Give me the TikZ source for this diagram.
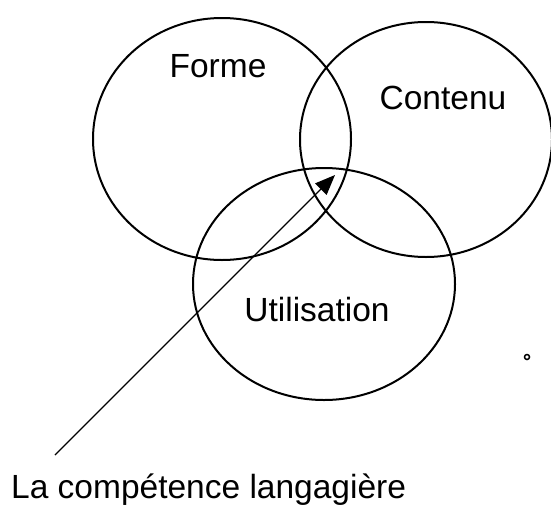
\documentclass[tikz,border=0pt]{standalone}
\usepackage{fontspec}
\setmainfont{Liberation Sans}
\usetikzlibrary{arrows.meta}
\begin{document}
\begin{tikzpicture}[x=1pt,y=-1pt,
  ring/.style={draw=black,line width=2pt},
  lab/.style={font=\fontsize{33.5}{38}\selectfont,inner sep=0pt}]
\useasboundingbox (0,0) rectangle (551,506);
\draw[ring] (222,139) ellipse [x radius=129,y radius=121];
\draw[ring] (426,139.5) ellipse [x radius=126,y radius=117.5];
\draw[ring] (324,284) ellipse [x radius=131,y radius=116];
\node[lab] (forme) at (218,66) {Forme};
\node[lab] (contenu) at (443,98) {Contenu};
\node[lab] (util) at (317,310) {Utilisation};
\node[lab,anchor=west] (comp) at (11,490) {La comp\'etence langagi\`ere};
\coordinate (tail) at (55,455);
\coordinate (tip) at (335,175);
\draw[line width=1.3pt,-{Triangle[length=20pt,width=16pt]}] (tail) -- (tip);
\node[draw,circle,line width=1.5pt,minimum size=5pt,inner sep=0pt] (dot) at (527,357) {};
\end{tikzpicture}
\end{document}
